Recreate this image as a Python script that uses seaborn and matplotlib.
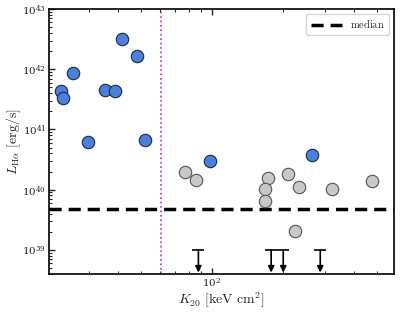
import numpy as np
import pandas as pd
import matplotlib
matplotlib.use('Agg')
import matplotlib.pyplot as plt
import seaborn as sns

# detected sources (blue = below cut / high L, grey = others)
k20_blue = [23.0, 23.4, 25.8, 29.7, 35.2, 38.8, 41.7, 48.1, 52.0, 98.0, 264.0]
lha_blue = [4.35e41, 3.29e41, 8.58e41, 6.14e40, 4.47e41, 4.35e41, 3.13e42, 1.63e42, 6.8e40, 3.04e40, 3.79e40]

k20_grey = [76.9, 85.3, 172.0, 167.0, 167.0, 210.5, 232.9, 321.5, 476.0, 224.7]
lha_grey = [1.94e40, 1.47e40, 1.57e40, 1.03e40, 6.38e39, 1.85e40, 1.11e40, 1.01e40, 1.37e40, 2.05e39]

# upper limits
k20_ul = [87.5, 177.8, 200.0, 286.9]
lha_ul = [1e39, 1e39, 1e39, 1e39]

median_lha = 4.8e39
k20_cut = 60.8

sns.set_style('white')
plt.rcParams['mathtext.fontset'] = 'cm'
plt.rcParams['font.family'] = ['DejaVu Serif']

df_blue = pd.DataFrame({'K20': k20_blue, 'LHa': lha_blue})
df_grey = pd.DataFrame({'K20': k20_grey, 'LHa': lha_grey})

fig, ax = plt.subplots(figsize=(4.15, 3.12), dpi=100)
ax.set_xscale('log')
ax.set_yscale('log')

sns.scatterplot(data=df_grey, x='K20', y='LHa', ax=ax, color='#c8c8c8',
                edgecolor='#555555', linewidth=0.8, s=80, zorder=3)
sns.scatterplot(data=df_blue, x='K20', y='LHa', ax=ax, color='#4a7fdb',
                edgecolor='#1a2a4a', linewidth=0.8, s=80, zorder=4)

# upper limits: cap at the limit, arrow pointing down
for x, y in zip(k20_ul, lha_ul):
    ax.annotate('', xy=(x, y * 0.42), xytext=(x, y),
                arrowprops=dict(arrowstyle='-|>', color='black', lw=1.2,
                                mutation_scale=9, shrinkA=0, shrinkB=0), zorder=3)
ax.scatter(k20_ul, lha_ul, marker='_', s=70, color='black', linewidths=1.2, zorder=3)

ax.axhline(median_lha, color='black', ls='--', lw=2.5, dashes=(3.5, 2), label=r'$\rm median$', zorder=2)
ax.axvline(k20_cut, color='#cc22cc', ls=':', lw=1.2, zorder=1)

ax.set_xlim(20.4, 590)
ax.set_ylim(10**38.6, 1e43)

ax.set_xlabel(r'$K_{20}\ [{\rm keV\ cm^2}]$', fontsize=10, labelpad=1)
ax.set_ylabel(r'$L_{\rm H\alpha}\ [{\rm erg/s}]$', fontsize=10)
ax.yaxis.set_label_coords(-0.075, 0.5)

ax.tick_params(which='both', direction='in', top=True, right=False, left=True, bottom=True)
ax.tick_params(which='major', length=4.5, width=1, labelsize=7.5, pad=2)
ax.tick_params(which='minor', length=2.2, width=0.8)
ax.xaxis.set_major_locator(matplotlib.ticker.LogLocator(base=10))
ax.xaxis.set_minor_locator(matplotlib.ticker.LogLocator(base=10, subs=np.arange(2, 10)))
ax.xaxis.set_minor_formatter(matplotlib.ticker.NullFormatter())
ax.yaxis.set_major_locator(matplotlib.ticker.LogLocator(base=10))
ax.yaxis.set_minor_locator(matplotlib.ticker.LogLocator(base=10, subs=np.arange(2, 10)))
ax.yaxis.set_minor_formatter(matplotlib.ticker.NullFormatter())

for sp in ax.spines.values():
    sp.set_color('black')
    sp.set_linewidth(1.2)

ax.legend(loc='upper right', fontsize=7.5, handlelength=3.0, fancybox=True)

fig.subplots_adjust(left=0.118, right=0.95, top=0.971, bottom=0.122)
plt.savefig('out.png', dpi=100)
plt.close()
